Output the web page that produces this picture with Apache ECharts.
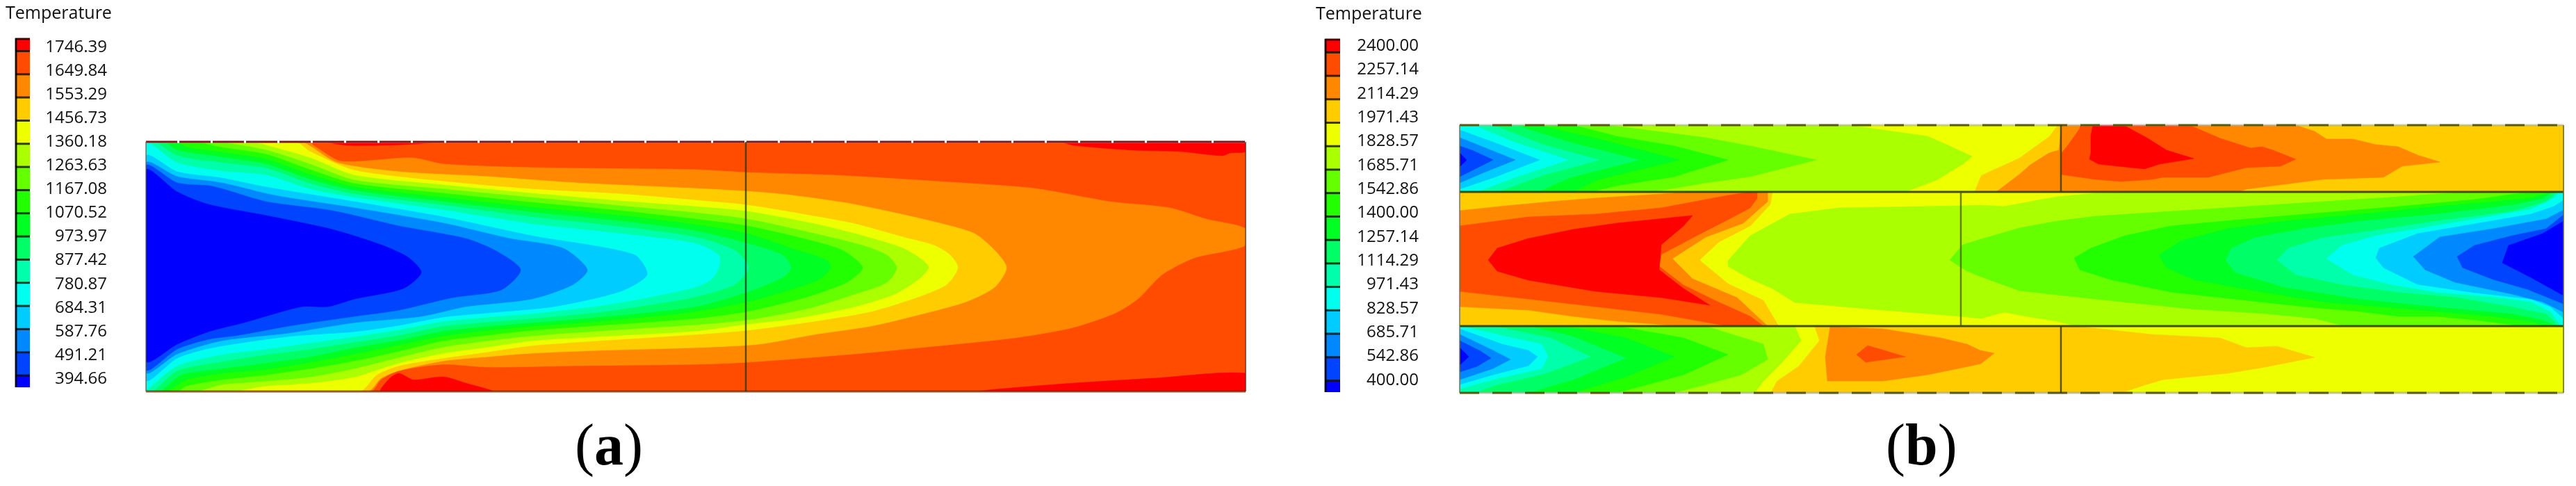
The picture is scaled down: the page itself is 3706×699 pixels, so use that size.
<!DOCTYPE html>
<html><head><meta charset="utf-8">
<style>html,body{margin:0;padding:0;background:#fff}#c{width:3706px;height:699px}</style>
<script src="https://cdn.jsdelivr.net/npm/echarts@6/dist/echarts.min.js"></script>
</head><body><div id="c"></div>
<script>
// colour bands, cold to hot
const bandColors = ['#0000ff','#0044ff','#0088ff','#00ccff','#00ffee','#00ffaa','#00ff66','#00ff22','#22ff00','#66ff00','#aaff00','#eeff00','#ffcc00','#ff8800','#ff4c00','#ff0000'];
const DEEP=0,B44=1,B88=2,BCC=3,CEE=4,CAA=5,G66=6,G22=7,L22=8,L66=9,LAA=10,YEL=11,AMB=12,ORG=13,ORD=14,RED=15;

// colour-bar tick labels (top to bottom)
const labelsA = ['1746.39','1649.84','1553.29','1456.73','1360.18','1263.63','1167.08','1070.52','973.97','877.42','780.87','684.31','587.76','491.21','394.66'];
const labelsB = ['2400.00','2257.14','2114.29','1971.43','1828.57','1685.71','1542.86','1400.00','1257.14','1114.29','971.43','828.57','685.71','542.86','400.00'];

// panel (a): isotherm outlines, [along, across]
const aBase = [[0,0],[1582,0],[1582,359],[0,359]];
const aRedTop1 = [[262,0],[290,5],[370,4],[420,0]];
const aRedTop2 = [[1320,0],[1335,5],[1421,12],[1490,14],[1548,20],[1560,16],[1582,14],[1582,0]];
const aRedBot1 = [[338,359],[351,340],[364,333],[383,342],[393,342],[428,338],[460,347],[498,359]];
const aRedBot2 = [[1200,359],[1221,356],[1335,347],[1450,340],[1582,333],[1582,359]];
const aOrange = [[0,0],[232,0],[245,8],[281,28],[383,23],[428,32],[555,37],[790,40],[863,44],[991,48],[1157,58],[1278,67],[1387,86],[1473,95],[1525,111],[1582,125],[1582,149],[1508,167],[1462,191],[1427,226],[1393,247],[1330,268],[1249,282],[1134,294],[1020,305],[865,317],[790,320],[619,322],[492,324],[428,320],[364,329],[338,342],[323,359],[0,359]];
const aAmber = [[0,0],[224,0],[236,6],[275,30],[364,43],[492,50],[619,59],[790,67],[863,71],[922,76],[1008,88],[1077,102],[1146,118],[1192,132],[1221,156],[1238,181],[1221,209],[1180,230],[1111,249],[1043,265],[962,277],[882,291],[790,296],[651,300],[555,304],[492,309],[428,315],[364,329],[338,340],[319,359],[0,359]];
const aYellow = [[0,0],[215,0],[236,14],[300,41],[428,57],[555,68],[683,75],[790,84],[865,91],[962,107],[1020,118],[1089,137],[1134,149],[1157,163],[1168,181],[1152,205],[1111,223],[1043,244],[962,258],[865,271],[790,277],[651,286],[555,293],[492,302],[428,311],[364,322],[332,335],[307,359],[0,359]];
const aYG = [[0,0],[150,0],[173,5],[236,23],[300,48],[428,62],[555,74],[683,85],[790,93],[865,100],[962,118],[1031,135],[1089,153],[1117,170],[1126,181],[1111,198],[1077,219],[1020,237],[934,254],[865,262],[790,272],[651,280],[555,286],[492,295],[428,304],[364,318],[300,338],[236,347],[173,351],[122,359],[0,359]];
const aLime = [[0,0],[100,0],[173,12],[236,32],[300,55],[428,68],[555,80],[683,92],[790,102],[865,111],[962,132],[1031,149],[1066,163],[1080,181],[1066,202],[1020,219],[951,240],[865,256],[790,263],[651,272],[555,279],[492,286],[428,295],[364,310],[300,326],[236,338],[173,344],[109,349],[71,359],[0,359]];
const aG1 = [[0,0],[70,0],[109,8],[173,18],[236,40],[300,60],[428,74],[555,87],[683,99],[790,111],[865,121],[945,139],[1002,156],[1031,181],[1008,202],[951,223],[865,244],[790,254],[651,264],[555,271],[492,278],[428,286],[364,301],[300,315],[236,326],[173,335],[109,342],[58,351],[45,359],[0,359]];
const aG2 = [[0,0],[42,0],[60,8],[109,15],[173,25],[236,47],[300,65],[428,80],[555,94],[683,106],[790,119],[865,132],[928,153],[979,170],[985,181],[968,198],[916,216],[865,230],[790,244],[651,258],[555,265],[492,271],[428,279],[364,292],[300,305],[236,317],[173,327],[109,333],[58,342],[29,359],[0,359]];
const aG3 = [[0,0],[26,0],[45,12],[109,22],[173,32],[236,54],[300,70],[428,86],[555,101],[683,114],[790,128],[865,146],[916,163],[928,181],[916,195],[865,216],[790,237],[651,252],[555,260],[492,265],[428,272],[364,285],[300,296],[236,309],[173,318],[109,326],[51,335],[20,359],[0,359]];
const aG4 = [[0,0],[13,0],[45,20],[109,30],[173,38],[236,60],[300,75],[428,91],[555,108],[683,122],[790,137],[847,156],[867,181],[847,205],[790,223],[721,235],[651,245],[555,254],[492,259],[428,265],[364,278],[300,288],[236,298],[173,306],[109,316],[45,329],[10,359],[0,359]];
const aCyan = [[0,3],[7,3],[45,30],[109,42],[173,48],[236,68],[300,80],[428,98],[555,118],[683,132],[790,146],[824,163],[824,181],[813,198],[790,209],[721,224],[651,236],[555,247],[492,252],[428,258],[364,270],[300,280],[236,289],[173,298],[109,306],[45,322],[3,355],[0,355]];
const aSky = [[0,21],[45,43],[109,52],[173,65],[300,86],[428,108],[555,135],[702,162],[721,191],[683,215],[587,237],[492,246],[428,252],[364,264],[300,273],[205,280],[96,296],[45,311],[0,342]];
const aAzure = [[0,31],[45,50],[109,59],[185,77],[300,95],[428,117],[523,139],[600,153],[635,184],[613,206],[555,226],[460,237],[396,251],[300,260],[205,275],[109,286],[45,305],[0,331]];
const aBlue = [[0,35],[45,59],[96,64],[173,86],[268,99],[364,121],[460,139],[504,157],[539,184],[511,213],[441,224],[364,242],[300,251],[211,264],[134,278],[90,284],[45,298],[0,327]];
const aDeep = [[0,41],[45,72],[90,90],[173,106],[268,126],[338,148],[377,166],[396,188],[370,211],[300,226],[262,237],[224,237],[141,260],[90,273],[45,291],[0,315]];

// panel (b): top channel
const bTopBase = [[0,0],[1588,0],[1588,96],[0,96]];
const bTopOrange = [[772,96],[805,71],[821,57],[848,40],[862,36],[866,0],[1203,0],[1230,9],[1247,20],[1285,20],[1318,28],[1350,31],[1378,43],[1410,53],[1356,59],[1329,75],[1241,78],[1187,85],[1132,92],[1121,96]];
const bTopOrd = [[893,0],[892,5],[875,29],[866,40],[866,71],[914,78],[952,81],[996,78],[1012,75],[1077,75],[1132,61],[1181,59],[1203,49],[1170,36],[1154,31],[1138,33],[1094,19],[1050,0]];
const bTopRed = [[911,0],[908,15],[908,40],[906,49],[919,56],[985,63],[1007,56],[1056,48],[1017,36],[990,19],[957,1],[955,0]];
const bTopYellow = [[0,0],[860,0],[848,16],[805,47],[750,72],[740,96],[0,96]];
const bTopYG = [[0,0],[560,0],[673,16],[705,30],[737,45],[724,56],[686,79],[641,96],[0,96]];
const bTopLime = [[0,0],[214,0],[354,18],[418,30],[513,50],[418,74],[354,83],[278,96],[0,96]];
const bTopL22 = [[0,0],[163,0],[226,16],[309,30],[386,50],[309,74],[226,87],[188,96],[0,96]];
const bTopG22 = [[0,0],[112,0],[200,20],[316,50],[200,78],[163,96],[0,96]];
const bTopG66 = [[0,0],[80,0],[160,25],[258,50],[160,75],[112,96],[0,96]];
const bTopCAA = [[0,0],[48,0],[120,28],[201,50],[120,72],[54,96],[0,96]];
const bTopCEE = [[0,0],[20,0],[80,25],[156,50],[80,75],[25,96],[0,96]];
const bTopCC = [[0,7],[50,25],[115,50],[50,75],[0,92]];
const bTop88 = [[0,18],[35,32],[80,50],[35,68],[0,83]];
const bTop44 = [[0,30],[20,37],[48,50],[20,64],[0,74]];
const bTopDeep = [[0,40],[10,50],[0,60]];

// panel (b): middle channel
const bMidBase = [[0,96],[1588,96],[1588,289],[0,289]];
const bMidAmber = [[0,96],[450,96],[447,114],[418,145],[373,168],[345,194],[386,228],[437,252],[459,289],[0,289]];
const bMidOrange = [[0,123],[67,116],[131,110],[195,105],[290,99],[335,96],[443,96],[443,110],[408,141],[354,161],[306,192],[335,221],[399,248],[443,289],[322,289],[226,282],[163,275],[99,266],[0,261]];
const bMidOrd = [[0,145],[99,132],[195,128],[290,119],[386,101],[418,96],[428,96],[428,105],[418,119],[386,136],[341,159],[290,186],[287,203],[322,230],[367,252],[418,275],[437,289],[386,289],[290,272],[195,261],[99,250],[0,239]];
const bMidRed = [[41,194],[54,177],[99,163],[163,150],[226,141],[335,130],[322,145],[290,172],[287,208],[322,235],[360,259],[290,248],[195,239],[99,223],[54,210]];
const bMidYG = [[386,195],[418,159],[475,128],[545,119],[721,116],[750,115],[783,117],[821,110],[859,103],[914,98],[968,96],[1588,96],[1588,289],[886,289],[859,282],[821,276],[783,269],[750,278],[721,275],[609,266],[482,255],[450,235],[418,221],[386,203]];
const bMidLime = [[705,194],[724,172],[750,164],[805,148],[859,138],[914,131],[1023,124],[1132,117],[1241,110],[1350,103],[1432,97],[1450,96],[1588,96],[1588,289],[1274,289],[1230,278],[1159,271],[1050,264],[914,250],[805,238],[750,218],[730,210]];
const bMidL22 = [[884,191],[908,177],[957,159],[1023,145],[1132,135],[1241,126],[1350,117],[1460,107],[1525,98],[1547,96],[1588,96],[1588,289],[1530,289],[1460,280],[1405,275],[1350,275],[1296,268],[1214,261],[1132,252],[1023,240],[936,222],[892,208]];
const bMidG22 = [[1006,187],[1039,166],[1105,149],[1187,138],[1296,128],[1405,117],[1487,110],[1541,105],[1569,96],[1588,96],[1588,289],[1563,289],[1541,282],[1487,275],[1405,268],[1323,261],[1241,254],[1132,236],[1056,222],[1017,205]];
const bMidG66 = [[1102,194],[1110,177],[1143,162],[1214,149],[1296,138],[1405,128],[1514,115],[1558,106],[1574,96],[1588,96],[1588,289],[1580,289],[1558,280],[1514,271],[1405,261],[1296,250],[1187,233],[1116,212]];
const bMidCAA = [[1176,194],[1192,177],[1241,162],[1312,152],[1405,138],[1514,124],[1563,110],[1580,96],[1588,96],[1588,289],[1582,289],[1563,271],[1514,261],[1432,247],[1350,240],[1269,229],[1203,215]];
const bMidCEE = [[1247,192],[1269,173],[1318,159],[1378,149],[1460,135],[1541,121],[1569,108],[1585,96],[1588,96],[1588,289],[1585,289],[1569,268],[1541,254],[1487,247],[1405,240],[1340,229],[1285,215]];
const bMidCC = [[1318,191],[1323,177],[1378,156],[1460,142],[1541,128],[1574,117],[1588,108],[1588,278],[1569,261],[1541,250],[1460,241],[1378,229],[1329,205]];
const bMid88 = [[1372,189],[1410,161],[1487,149],[1563,135],[1588,122],[1588,269],[1558,254],[1514,243],[1432,226],[1389,208]];
const bMid44 = [[1435,189],[1460,173],[1514,159],[1563,149],[1588,129],[1588,257],[1536,236],[1487,222],[1443,205]];
const bMidDeep = [[1500,198],[1509,173],[1558,156],[1588,138],[1588,245],[1541,219]];

// panel (b): bottom channel
const bBotBase = [[0,289],[1588,289],[1588,385],[0,385]];
const bBotAmber = [[0,289],[880,289],[914,292],[996,301],[1094,306],[1132,320],[1176,318],[1230,334],[1159,348],[1105,357],[1012,366],[985,374],[952,385],[0,385]];
const bBotOrange = [[533,290],[609,293],[692,306],[730,315],[749,324],[769,328],[750,343],[737,346],[673,359],[609,368],[529,368],[526,333]];
const bBotOrd = [[571,330],[587,317],[641,333],[584,341]];
const bBotYellow = [[0,289],[510,289],[517,310],[488,346],[456,368],[447,385],[0,385]];
const bBotYG = [[0,289],[482,289],[491,310],[463,342],[437,368],[424,385],[0,385]];
const bBotLime = [[0,289],[354,289],[437,315],[443,337],[405,359],[354,373],[309,385],[0,385]];
const bBotL22 = [[0,289],[226,289],[322,306],[386,330],[322,359],[226,385],[0,385]];
const bBotG22 = [[0,289],[150,289],[239,306],[309,333],[239,362],[163,385],[0,385]];
const bBotG66 = [[0,289],[99,289],[163,304],[239,335],[163,366],[99,385],[0,385]];
const bBotCAA = [[0,289],[48,289],[131,306],[188,333],[124,357],[48,375],[22,385],[0,385]];
const bBotCEE = [[0,289],[3,289],[67,304],[118,315],[127,333],[118,350],[48,366],[0,379]];
const bBotCC = [[0,293],[61,315],[99,324],[112,333],[99,346],[48,359],[0,373]];
const bBot88 = [[0,301],[48,324],[73,337],[48,350],[0,366]];
const bBot44 = [[0,310],[30,325],[45,335],[25,347],[0,355]];
const bBotDeep = [[0,320],[13,333],[0,345]];

// paint order: outermost isotherm first
const panelA = [[ORD,aBase],[RED,aRedTop1],[RED,aRedTop2],[RED,aRedBot1],[RED,aRedBot2],[ORG,aOrange],[AMB,aAmber],[YEL,aYellow],[LAA,aYG],[L66,aLime],[L22,aG1],[G22,aG2],[G66,aG3],[CAA,aG4],[CEE,aCyan],[BCC,aSky],[B88,aAzure],[B44,aBlue],[DEEP,aDeep]];
const panelB = [[AMB,bTopBase],[ORG,bTopOrange],[ORD,bTopOrd],[RED,bTopRed],[YEL,bTopYellow],[LAA,bTopYG],[L66,bTopLime],[L22,bTopL22],[G22,bTopG22],[G66,bTopG66],[CAA,bTopCAA],[CEE,bTopCEE],[BCC,bTopCC],[B88,bTop88],[B44,bTop44],[DEEP,bTopDeep],
 [YEL,bMidBase],[AMB,bMidAmber],[ORG,bMidOrange],[ORD,bMidOrd],[RED,bMidRed],[LAA,bMidYG],[L66,bMidLime],[L22,bMidL22],[G22,bMidG22],[G66,bMidG66],[CAA,bMidCAA],[CEE,bMidCEE],[BCC,bMidCC],[B88,bMid88],[B44,bMid44],[DEEP,bMidDeep],
 [YEL,bBotBase],[AMB,bBotAmber],[ORG,bBotOrange],[ORD,bBotOrd],[YEL,bBotYellow],[LAA,bBotYG],[L66,bBotLime],[L22,bBotL22],[G22,bBotG22],[G66,bBotG66],[CAA,bBotCAA],[CEE,bBotCEE],[BCC,bBotCC],[B88,bBot88],[B44,bBot44],[DEEP,bBotDeep]];

// colour-bar band edges (temperature), bottom to top
const edgesA = [345.4,394.66,491.21,587.76,684.31,780.87,877.42,973.97,1070.52,1167.08,1263.63,1360.18,1456.73,1553.29,1649.84,1746.39,1800];
const edgesB = [330,400,542.86,685.71,828.57,971.43,1114.29,1257.14,1400,1542.86,1685.71,1828.57,1971.43,2114.29,2257.14,2400,2482];

function polySeries(name, g, list, smooth){
  return {name, type:'custom', coordinateSystem:'cartesian2d', xAxisIndex:g, yAxisIndex:g, silent:true, animation:false, z:2, clip:true,
    data:list.map((p,i)=>[i,p[0]]),
    renderItem(params,api){
      const i=params.dataIndex, p=list[i];
      return {type:'polygon',shape:{points:p[1].map(q=>api.coord(q)),smooth:i===0?0:smooth},style:{fill:bandColors[p[0]],stroke:bandColors[p[0]],lineWidth:.6}};
    }};
}
function barSeries(name, g, edges){
  return {name, type:'custom', coordinateSystem:'cartesian2d', xAxisIndex:g, yAxisIndex:g, silent:true, animation:false, z:2,
    data:edges.slice(0,-1).map((e,i)=>[0,e,edges[i+1],i]),
    renderItem(params,api){
      const i=params.dataIndex;
      const a=api.coord([0,api.value(1)]), b=api.coord([1,api.value(2)]);
      const kids=[{type:'rect',shape:{x:a[0],y:b[1],width:b[0]-a[0],height:a[1]-b[1]},style:{fill:bandColors[i]}}];
      if(i>0) kids.push({type:'line',shape:{x1:a[0],y1:a[1],x2:b[0],y2:a[1]},style:{stroke:'rgba(10,10,0,.8)',lineWidth:3}});
      kids.push({type:'line',shape:{x1:a[0]+1,y1:a[1],x2:a[0]+1,y2:b[1]},style:{stroke:'rgba(0,0,0,.85)',lineWidth:3}});
      if(i===edges.length-2) kids.push({type:'line',shape:{x1:a[0],y1:b[1]+1,x2:b[0],y2:b[1]+1},style:{stroke:'rgba(40,0,0,.85)',lineWidth:3}});
      return {type:'group',children:kids};
    }};
}
function lineSeries(g,pts,color,width,dash){
  return {type:'line',xAxisIndex:g,yAxisIndex:g,data:pts,symbol:'none',silent:true,animation:false,z:5,clip:false,
    lineStyle:{color,width,type:dash||'solid'}};
}
const hide={show:false};
function valAxis(g,min,max,inverse){return {type:'value',gridIndex:g,min,max,inverse:!!inverse,axisLine:hide,axisTick:hide,axisLabel:hide,splitLine:hide};}
function labelAxis(g,labels){return {type:'category',gridIndex:g,data:labels,boundaryGap:false,inverse:true,position:'left',axisLine:hide,axisTick:hide,splitLine:hide,
  axisLabel:{show:true,interval:0,margin:0,fontFamily:'"Open Sans"',fontSize:24,color:'#111',hideOverlap:false}};}

const font='"Open Sans"';
const capRich={p:{fontFamily:'"Liberation Serif"',fontSize:84,fontWeight:'normal',color:'#000'},b:{fontFamily:'"Liberation Serif"',fontSize:84,fontWeight:'bold',color:'#000'}};
const option={
  backgroundColor:'#fff',animation:false,
  title:[
    {text:'Temperature',left:8,top:7,padding:0,textStyle:{fontFamily:font,fontSize:25,fontWeight:'normal',color:'#111'}},
    {text:'Temperature',left:1893,top:8,padding:0,textStyle:{fontFamily:font,fontSize:25,fontWeight:'normal',color:'#111'}},
    {text:'{p|(}{b|a}{p|)}',left:827,top:604,padding:0,textStyle:{rich:capRich}},
    {text:'{p|(}{b|b}{p|)}',left:2713,top:604,padding:0,textStyle:{rich:capRich}}
  ],
  grid:[
    {left:210,top:204,width:1582,height:359},
    {left:2100,top:180,width:1588,height:385},
    {left:22,top:55,width:21,height:502},
    {left:1906,top:56,width:22,height:508},
    {left:154,top:68,width:2,height:477},
    {left:2041,top:66,width:2,height:481}
  ],
  xAxis:[valAxis(0,0,1582),valAxis(1,0,1588),valAxis(2,0,1),valAxis(3,0,1),valAxis(4,0,1),valAxis(5,0,1)],
  yAxis:[valAxis(0,0,359,true),valAxis(1,0,385,true),valAxis(2,edgesA[0],edgesA[16]),valAxis(3,edgesB[0],edgesB[16]),labelAxis(4,labelsA),labelAxis(5,labelsB)],
  series:[
    polySeries('panel a',0,panelA,0.25),
    polySeries('panel b',1,panelB,0),
    barSeries('scale a',2,edgesA),
    barSeries('scale b',3,edgesB),
    // panel a mesh lines
    lineSeries(0,[[0,0],[1582,0]],'#fff',3),
    lineSeries(0,[[0,0],[1582,0]],'rgba(110,0,0,.9)',3,[45,3]),
    lineSeries(0,[[0,359],[1582,359]],'rgba(120,40,0,.75)',3),
    lineSeries(0,[[0,0],[0,359]],'rgba(90,90,70,.6)',2),
    lineSeries(0,[[1582,0],[1582,359]],'rgba(90,50,30,.7)',2),
    lineSeries(0,[[863,0],[863,359]],'rgba(40,50,20,.75)',2.5),
    // panel b mesh lines
    lineSeries(1,[[0,0],[1588,0]],'rgba(170,170,150,.6)',3),
    lineSeries(1,[[0,0],[1588,0]],'rgba(80,80,0,.9)',3,[28,19]),
    lineSeries(1,[[0,385],[1588,385]],'rgba(170,170,150,.7)',3),
    lineSeries(1,[[0,385],[1588,385]],'rgba(80,80,0,.9)',3,[28,19]),
    lineSeries(1,[[0,96],[1588,96]],'rgba(50,60,0,.9)',3),
    lineSeries(1,[[0,289],[1588,289]],'rgba(50,60,0,.9)',3),
    lineSeries(1,[[0,0],[0,385]],'rgba(110,110,80,.7)',2),
    lineSeries(1,[[1588,0],[1588,385]],'rgba(110,100,30,.8)',2),
    lineSeries(1,[[721,96],[721,289]],'rgba(70,90,0,.75)',2.5),
    lineSeries(1,[[865,0],[865,96]],'rgba(60,60,0,.85)',2.5),
    lineSeries(1,[[865,289],[865,385]],'rgba(60,60,0,.85)',2.5)
  ]
};
const chart=echarts.init(document.getElementById('c'),null,{renderer:'canvas'});
chart.setOption(option);
</script></body></html>
